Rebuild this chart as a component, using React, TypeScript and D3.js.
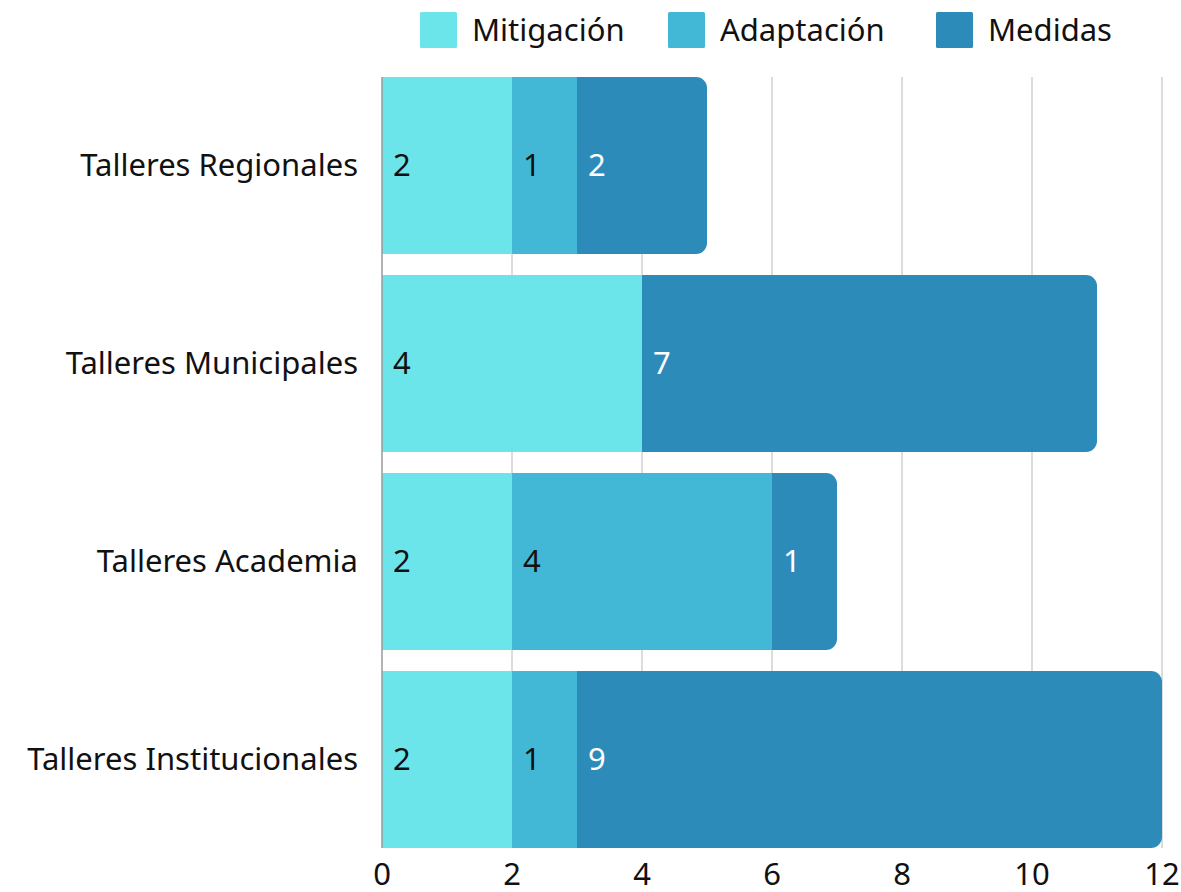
import * as d3 from 'd3'
import { useEffect, useRef } from 'react'

const categories = ['Talleres Regionales', 'Talleres Municipales', 'Talleres Academia', 'Talleres Institucionales']
const seriesNames = ['Mitigación', 'Adaptación', 'Medidas']
const mitigacion = [2, 4, 2, 2]
const adaptacion = [1, 0, 4, 1]
const medidas = [2, 7, 1, 9]
const xTicks = [0, 2, 4, 6, 8, 10, 12]

const colors = ['#6ce5ea', '#42b8d6', '#2d8bba']
const labelColors = ['#111', '#111', '#fff']
const FONT = '"Noto Sans", sans-serif'
const FS = '31px'

export default function App() {
  const ref = useRef<SVGSVGElement>(null)

  useEffect(() => {
    const width = 1181
    const height = 892
    const svg = d3.select(ref.current)
    svg.selectAll('*').remove()
    svg.attr('width', width).attr('height', height)

    const rows = categories.map((c, i) => ({
      cat: c,
      'Mitigación': mitigacion[i],
      'Adaptación': adaptacion[i],
      'Medidas': medidas[i],
    }))

    const x = d3.scaleLinear().domain([0, 12]).range([382, 1162])
    const y = d3.scaleBand<string>()
      .domain(categories)
      .range([66.5, 858.5])
      .paddingInner(0.106)
      .paddingOuter(0.053)

    const stacked = d3.stack<any>().keys(seriesNames)(rows)

    const top = y(categories[0])!
    const bottom = y(categories[categories.length - 1])! + y.bandwidth()

    // grid
    svg.append('g')
      .selectAll('line')
      .data(xTicks.slice(1))
      .join('line')
      .attr('x1', d => x(d)).attr('x2', d => x(d))
      .attr('y1', top).attr('y2', bottom)
      .attr('stroke', '#dcdcdc')
      .attr('stroke-width', 2)

    // last non-zero series per row gets rounded right end
    const lastKey = rows.map(r => {
      let k = seriesNames[0]
      seriesNames.forEach(s => { if ((r as any)[s] > 0) k = s })
      return k
    })

    const r = 11
    const barPath = (x0: number, x1: number, y0: number, h: number, rounded: boolean) => {
      const p = d3.path()
      if (!rounded) {
        p.rect(x0, y0, x1 - x0, h)
        return p.toString()
      }
      p.moveTo(x0, y0)
      p.lineTo(x1 - r, y0)
      p.arcTo(x1, y0, x1, y0 + r, r)
      p.lineTo(x1, y0 + h - r)
      p.arcTo(x1, y0 + h, x1 - r, y0 + h, r)
      p.lineTo(x0, y0 + h)
      p.closePath()
      return p.toString()
    }

    stacked.forEach((layer, si) => {
      const g = svg.append('g')
      g.selectAll('path')
        .data(layer.filter(d => d[1] - d[0] > 0))
        .join('path')
        .attr('d', d => {
          const ri = categories.indexOf(d.data.cat)
          return barPath(x(d[0]), x(d[1]), y(d.data.cat)!, y.bandwidth(), lastKey[ri] === layer.key)
        })
        .attr('fill', colors[si])

      g.selectAll('text')
        .data(layer.filter(d => d[1] - d[0] > 0))
        .join('text')
        .attr('x', d => x(d[0]) + 11)
        .attr('y', d => y(d.data.cat)! + y.bandwidth() / 2)
        .attr('dy', '0.35em')
        .attr('fill', labelColors[si])
        .style('font-family', FONT)
        .style('font-size', FS)
        .text(d => d[1] - d[0])
    })

    // baseline at zero
    svg.append('line')
      .attr('x1', x(0)).attr('x2', x(0))
      .attr('y1', top).attr('y2', bottom)
      .attr('stroke', '#9a9a9a')
      .attr('stroke-width', 1.5)

    // category labels
    svg.append('g')
      .selectAll('text')
      .data(categories)
      .join('text')
      .attr('x', 358)
      .attr('y', d => y(d)! + y.bandwidth() / 2)
      .attr('dy', '0.35em')
      .attr('text-anchor', 'end')
      .attr('fill', '#111')
      .style('font-family', FONT)
      .style('font-size', FS)
      .text(d => d)

    // x tick labels
    svg.append('g')
      .selectAll('text')
      .data(xTicks)
      .join('text')
      .attr('x', d => x(d))
      .attr('y', 874)
      .attr('dy', '0.35em')
      .attr('text-anchor', 'middle')
      .attr('fill', '#111')
      .style('font-family', FONT)
      .style('font-size', FS)
      .text(d => d)

    // legend
    const legendX = [420, 668, 936]
    const lg = svg.append('g')
      .selectAll('g')
      .data(seriesNames)
      .join('g')
      .attr('transform', (d, i) => `translate(${legendX[i]},12)`)
    lg.append('rect')
      .attr('width', 37).attr('height', 36).attr('rx', 1.5)
      .attr('fill', (d, i) => colors[i])
    lg.append('text')
      .attr('x', 52)
      .attr('y', 18)
      .attr('dy', '0.35em')
      .attr('fill', '#111')
      .style('font-family', FONT)
      .style('font-size', FS)
      .text(d => d)
  })

  return (
    <svg ref={ref} style={{ position: 'absolute', left: 0, top: 0, background: '#fff' }}></svg>
  )
}
